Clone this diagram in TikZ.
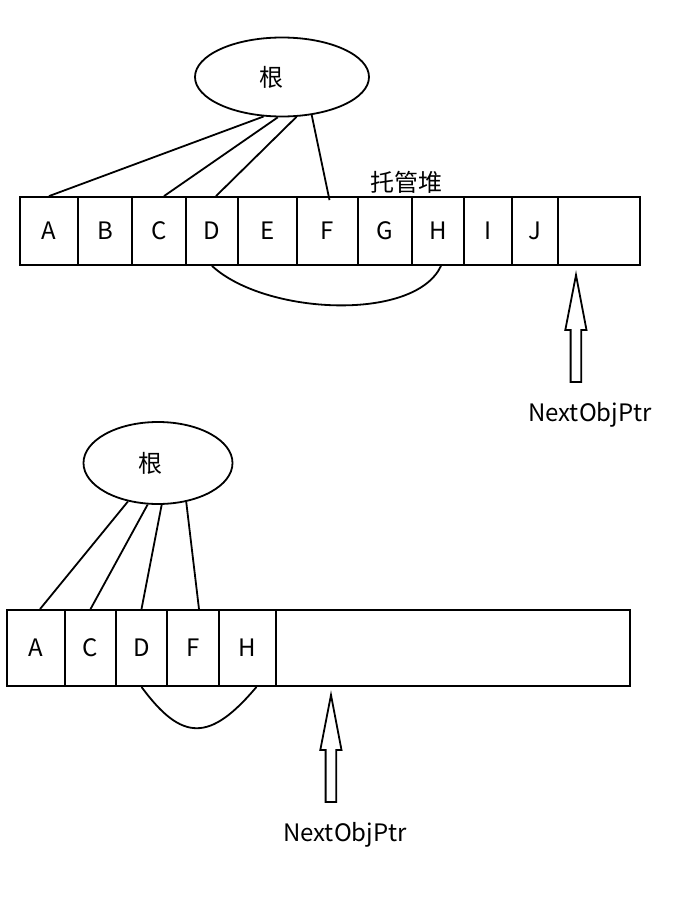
\documentclass[tikz,border=0pt]{standalone}
\usepackage{fontspec}
\setmainfont{Noto Sans CJK SC}
\usetikzlibrary{shapes.geometric}

\begin{document}
\begin{tikzpicture}[x=1pt,y=-1pt,line width=1.8pt,
    font=\fontsize{24}{28}\selectfont,
    cell/.style={draw,rectangle,inner sep=0pt},
    root/.style={draw,ellipse,inner sep=0pt}]
      \useasboundingbox (0,0) rectangle (698,907);
      % before collection
      \node[root,minimum width=174pt,minimum height=79pt,
        label={[xshift=-11pt]center:根}] (uroot) at (282,77) {};
      \foreach \l/\r/\t in {20/78/A,78/132/B,132/186/C,186/238/D,238/297/E,
          297/358/F,358/412/G,412/464/H,464/512/I,512/558/J}
        \node[cell,minimum height=68pt,minimum width={(\r-\l)*1pt}] (u\t) at ({(\l+\r)/2},231) {\t};
      \node[cell,minimum height=68pt,minimum width=82pt] (ufree) at (599,231) {};
      \node (uheap) at (406,182) {托管堆};
      \draw (uroot.245) -- (uA.north);
      \draw (uroot.264) -- ([xshift=5pt]uC.north);
      \draw (uroot.290) -- ([xshift=4pt]uD.north);
      \draw (uroot.308) -- ([xshift=2pt,yshift=-4pt]uF.north);
      \draw (uD.south) .. controls (265,315) and (415,322) .. ([xshift=3pt]uH.south);
      % after collection
      \node[root,minimum width=149pt,minimum height=82pt,
        label={[xshift=-8pt]center:根}] (lroot) at (158,463) {};
      \foreach \l/\r/\t in {7/65/A,65/116/C,116/167/D,167/219/F,219/276/H}
        \node[cell,minimum height=76pt,minimum width={(\r-\l)*1pt}] (l\t) at ({(\l+\r)/2},648) {\t};
      \node[cell,minimum height=76pt,minimum width=354pt] (lfree) at (453,648) {};
      \draw (lroot.232) -- ([xshift=4pt]lA.north);
      \draw (lroot.256) -- (lC.north);
      \draw (lroot.275) -- (lD.north);
      \draw (lroot.306) -- ([xshift=6pt]lF.north);
      \draw (lD.south) .. controls (182,742) and (210,742) .. ([xshift=9pt]lH.south);
      % NextObjPtr arrows
      \foreach \ax/\ay [count=\i] in {576/275,331/695} {
        \draw (\ax,\ay) -- ++(10.5,55) -- ++(-5.3,0) -- ++(0,52) -- ++(-10.6,0)
          -- ++(0,-52) -- ++(-5.3,0) -- cycle;
        \node (ptr\i) at (\ax+14,\ay+140) {NextObjPtr};
      }
\end{tikzpicture}
\end{document}
